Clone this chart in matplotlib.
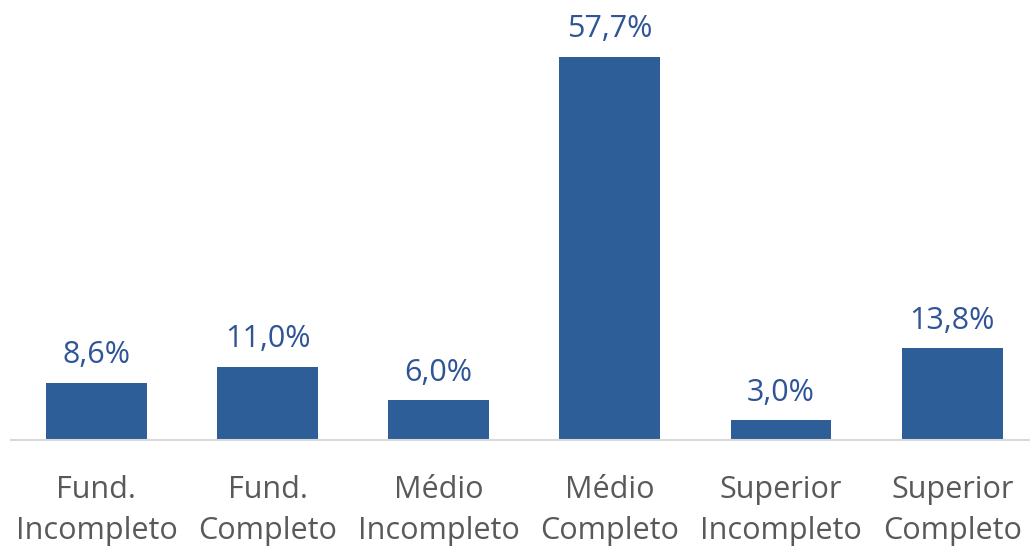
import matplotlib.pyplot as plt

categories = ['Fund.\nIncompleto', 'Fund.\nCompleto', 'Médio\nIncompleto',
              'Médio\nCompleto', 'Superior\nIncompleto', 'Superior\nCompleto']
values = [8.6, 11.0, 6.0, 57.7, 3.0, 13.8]
labels = ['8,6%', '11,0%', '6,0%', '57,7%', '3,0%', '13,8%']

plt.rcParams['font.family'] = ['Open Sans', 'DejaVu Sans']

fig = plt.figure(figsize=(10.3, 5.48), dpi=100)
ax = fig.add_axes([0.0105, 0.197, 0.997, 0.788])

x = range(len(values))
bars = ax.bar(x, values, width=0.59, color='#2E5E98')

for b, lab in zip(bars, labels):
    ax.annotate(lab, (b.get_x() + b.get_width() / 2, b.get_height()),
                xytext=(0, 9), textcoords='offset points',
                ha='center', va='bottom', fontsize=22, color='#2F5597')

ax.set_xlim(-0.5, 5.5)
ax.set_ylim(0, 65)
ax.set_xticks(list(x))
ax.set_xticklabels(categories, fontsize=22, color='#595959', linespacing=1.5)
ax.tick_params(axis='x', length=0, pad=25)
ax.set_yticks([])
for s in ['top', 'right', 'left']:
    ax.spines[s].set_visible(False)
ax.spines['bottom'].set_color('#D9D9D9')
ax.spines['bottom'].set_linewidth(1.5)

fig.savefig('out.png', dpi=100)
